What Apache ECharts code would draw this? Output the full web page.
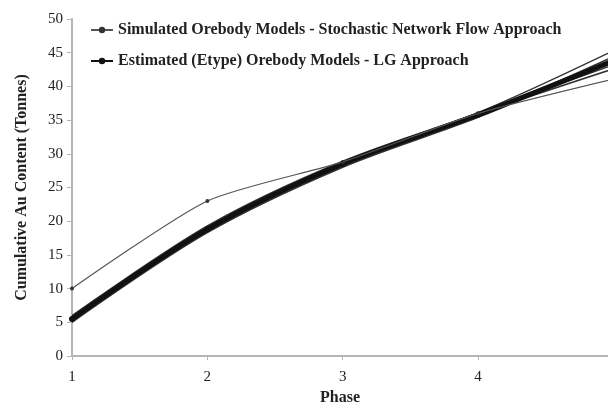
<!DOCTYPE html>
<html>
<head>
<meta charset="utf-8">
<script src="https://cdn.jsdelivr.net/npm/echarts@6/dist/echarts.min.js"></script>
<style>html,body{margin:0;padding:0;background:#fff}#c{width:608px;height:403px}</style>
</head>
<body>
<div id="c"></div>
<script>
const phases = [1, 2, 3, 4, 5];
const simName = 'Simulated Orebody Models - Stochastic Network Flow Approach';
const estName = 'Estimated (Etype) Orebody Models - LG Approach';
const upperLine = [10, 23, 28.8, 36.0, 41.1];
const bundleMain = [5.5, 18.8, 28.5, 35.8, 43.8];
const bundleVar1 = [5.2, 18.5, 28.2, 35.6, 44.4];
const bundleVar2 = [5.8, 19.1, 28.8, 36.1, 45.3];
const bundleVar3 = [6.0, 19.3, 28.9, 36.0, 43.2];
const bundleVar4 = [5.0, 18.3, 28.0, 35.4, 44.0];
const bundleVar5 = [5.6, 18.9, 28.6, 35.9, 42.6];
const yTicks = {min: 0, max: 50, interval: 5};
const xTicks = {min: 1, max: 4.96, interval: 1};

const pair = arr => phases.map((p, i) => [p, arr[i]]);
const serif = '"Liberation Serif", "Times New Roman", serif';

const series = [];
series.push({
  name: estName, type: 'line', smooth: 0.3, data: pair(bundleMain),
  symbol: 'circle', symbolSize: 6,
  lineStyle: {color: '#111', width: 5}, itemStyle: {color: '#111'}, z: 3
});
[bundleVar1, bundleVar2, bundleVar3, bundleVar4, bundleVar5].forEach(v => {
  series.push({
    name: estName, type: 'line', smooth: 0.3, data: pair(v),
    symbol: 'none',
    lineStyle: {color: '#333', width: 1.5}, itemStyle: {color: '#333'}, z: 2
  });
});
series.push({
  name: simName, type: 'line', smooth: 0.22, data: pair(upperLine),
  symbol: 'circle', symbolSize: 4,
  lineStyle: {color: '#555', width: 1.2}, itemStyle: {color: '#333'}, z: 4
});

const chart = echarts.init(document.getElementById('c'), null, {renderer: 'canvas'});
chart.setOption({
  animation: false,
  backgroundColor: '#fff',
  grid: {left: 72, right: 0, top: 19, bottom: 47, containLabel: false, outerBoundsMode: 'none'},
  legend: {
    orient: 'vertical', left: 85, top: 17, itemGap: 15,
    itemWidth: 22, itemHeight: 8,
    data: [simName, estName],
    textStyle: {fontFamily: serif, fontWeight: 'bold', fontSize: 16, color: '#222'}
  },
  xAxis: {
    type: 'value', min: xTicks.min, max: xTicks.max, interval: xTicks.interval,
    name: 'Phase', nameLocation: 'middle', nameGap: 33,
    nameTextStyle: {fontFamily: serif, fontWeight: 'bold', fontSize: 16, color: '#222'},
    axisLine: {lineStyle: {color: '#b5b5b5', width: 2}},
    axisTick: {show: true, length: 4, lineStyle: {color: '#b5b5b5'}},
    axisLabel: {fontFamily: serif, fontSize: 15, color: '#222', margin: 14,
      showMaxLabel: false},
    splitLine: {show: false}
  },
  yAxis: {
    type: 'value', min: yTicks.min, max: yTicks.max, interval: yTicks.interval,
    name: 'Cumulative Au Content (Tonnes)', nameLocation: 'middle', nameGap: 42,
    nameTextStyle: {fontFamily: serif, fontWeight: 'bold', fontSize: 16, color: '#222'},
    axisLine: {show: true, lineStyle: {color: '#b5b5b5', width: 2}},
    axisTick: {show: true, length: 5, lineStyle: {color: '#b5b5b5'}},
    axisLabel: {fontFamily: serif, fontSize: 15, color: '#222', margin: 9},
    splitLine: {show: false}
  },
  series: series
});
</script>
</body>
</html>
